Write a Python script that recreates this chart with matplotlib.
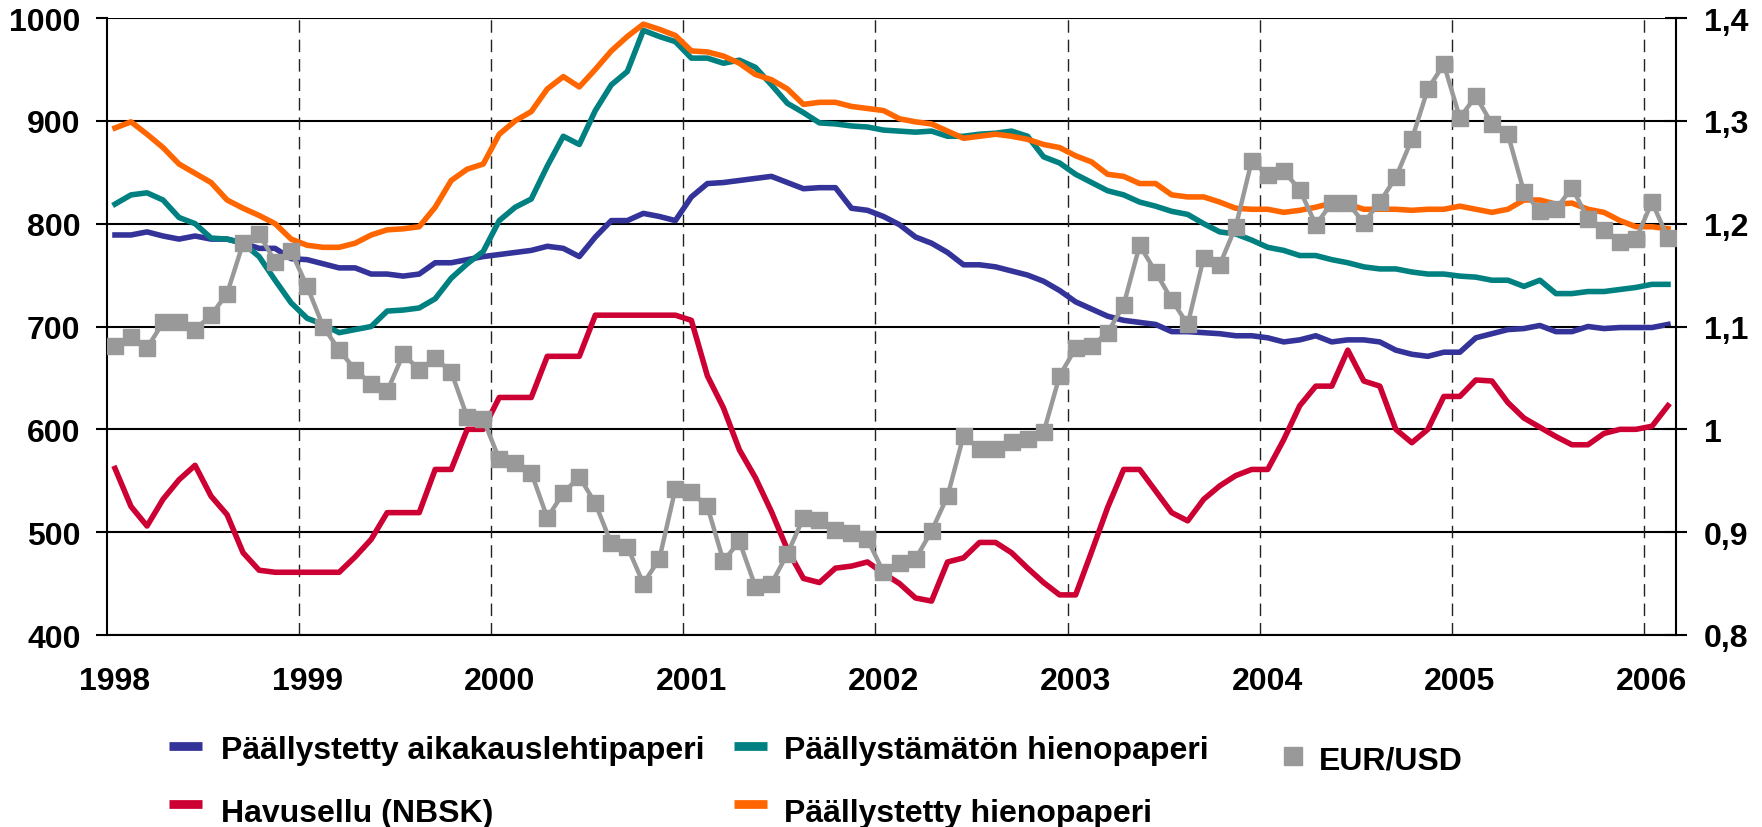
import numpy as np
import matplotlib
matplotlib.use('Agg')
import matplotlib.pyplot as plt
from matplotlib.lines import Line2D

# kuukausisarjat tammikuu 1998 - helmikuu 2006 (98 kk)
years = ['1998', '1999', '2000', '2001', '2002', '2003', '2004', '2005', '2006']

coated_magazine = [789, 789, 792, 788, 785, 788, 785, 785, 781, 776, 776, 766, 765, 761, 757, 757, 751, 751,
                   749, 751, 762, 762, 765, 768, 770, 772, 774, 778, 776, 768, 787,
                   803, 803, 810, 807, 803, 826, 839, 840, 842, 844, 846, 840, 834, 835, 835, 815, 813,
                   807, 799, 787, 781, 772, 760, 760, 758, 754, 750, 744, 735, 724, 717, 710, 706, 704, 702, 695,
                   695, 694, 693, 691, 691, 689, 685, 687, 691, 685, 687, 687, 685, 677, 673, 671, 675,
                   675, 689, 693, 697, 698, 701, 695, 695, 700, 698, 699, 699, 699, 702]

uncoated_fine = [819, 828, 830, 823, 806, 800, 786, 785, 781, 768, 745, 723, 708, 702, 694, 697, 700, 715,
                 716, 718, 727, 747, 761, 773, 803, 816, 824, 856, 885, 877, 910,
                 935, 948, 988, 982, 977, 961, 961, 956, 959, 952, 935, 917, 908, 898, 897, 895, 894,
                 891, 890, 889, 890, 885, 885, 887, 888, 890, 885, 865, 859, 848, 840, 832, 828, 821, 817, 812,
                 809, 800, 792, 790, 784, 777, 774, 769, 769, 765, 762, 758, 756, 756, 753, 751, 751,
                 749, 748, 745, 745, 739, 745, 732, 732, 734, 734, 736, 738, 741, 741]

nbsk_pulp = [562, 525, 506, 532, 551, 565, 535, 517, 480, 463, 461, 461, 461, 461, 461, 476, 493, 519,
             519, 519, 561, 561, 600, 600, 631, 631, 631, 671, 671, 671, 711,
             711, 711, 711, 711, 711, 706, 652, 621, 580, 553, 520, 483, 455, 451, 465, 467, 471,
             460, 450, 436, 433, 471, 475, 490, 490, 480, 465, 451, 439, 439, 481, 524, 561, 561, 540, 519,
             511, 532, 545, 555, 561, 561, 590, 623, 642, 642, 677, 647, 642, 600, 587, 600, 632,
             632, 648, 647, 626, 611, 602, 593, 585, 585, 596, 600, 600, 603, 623]

coated_fine = [893, 899, 887, 874, 858, 849, 840, 823, 815, 808, 800, 785, 779, 777, 777, 781, 789, 794,
               795, 797, 816, 842, 853, 858, 887, 900, 909, 931, 943, 933, 950,
               968, 982, 994, 989, 983, 968, 967, 963, 956, 945, 940, 931, 916, 918, 918, 914, 912,
               910, 902, 899, 897, 890, 883, 885, 887, 885, 882, 877, 874, 866, 860, 848, 846, 839, 839, 828,
               826, 826, 821, 815, 814, 814, 811, 813, 816, 820, 819, 814, 814, 814, 813, 814, 814,
               817, 814, 811, 814, 823, 823, 819, 820, 814, 811, 803, 797, 797, 795]

eur_usd = [1.081, 1.090, 1.079, 1.104, 1.104, 1.097, 1.111, 1.132, 1.181, 1.190, 1.163, 1.173, 1.139, 1.100,
           1.077, 1.058, 1.044, 1.037, 1.073, 1.058, 1.069, 1.056, 1.012, 1.010,
           0.971, 0.967, 0.958, 0.914, 0.938, 0.954, 0.928,
           0.889, 0.886, 0.850, 0.874, 0.942, 0.939, 0.925, 0.872, 0.891, 0.847, 0.850, 0.879, 0.914,
           0.912, 0.902, 0.899, 0.893, 0.861, 0.870, 0.874, 0.901, 0.935, 0.994, 0.981, 0.981, 0.988,
           0.991, 0.997, 1.052,
           1.079, 1.081, 1.094, 1.121, 1.179, 1.153,
           1.126, 1.102, 1.167, 1.160, 1.197, 1.261, 1.247, 1.251, 1.233, 1.199, 1.220, 1.220, 1.201,
           1.221, 1.245, 1.282, 1.331, 1.355, 1.303, 1.324, 1.297, 1.287, 1.231, 1.212, 1.214, 1.235,
           1.205, 1.194, 1.182, 1.185, 1.221, 1.186]

left_ticks = [400, 500, 600, 700, 800, 900, 1000]
right_ticks = [0.8, 0.9, 1.0, 1.1, 1.2, 1.3, 1.4]
right_labels = ['0,8', '0,9', '1', '1,1', '1,2', '1,3', '1,4']

c_blue = '#333399'
c_teal = '#008080'
c_red = '#CC0033'
c_orange = '#FF6600'
c_gray = '#999999'

plt.rcParams['font.family'] = ['Liberation Sans', 'DejaVu Sans']
plt.rcParams['font.weight'] = 'bold'
FS = 23

W, H = 1762, 828
fig = plt.figure(figsize=(W / 100, H / 100), dpi=100)
ax = fig.add_axes([107 / W, 1 - 636 / H, (1676 - 107) / W, (636 - 19) / H])

months = np.arange(len(coated_magazine))

ax.plot(months, coated_magazine, color=c_blue, lw=4, solid_joinstyle='round', zorder=3)
ax.plot(months, uncoated_fine, color=c_teal, lw=4, solid_joinstyle='round', zorder=3)
ax.plot(months, nbsk_pulp, color=c_red, lw=4, solid_joinstyle='round', zorder=3)
ax.plot(months, coated_fine, color=c_orange, lw=4, solid_joinstyle='round', zorder=3)

ax.set_xlim(-0.5, len(months) - 0.5)
ax.set_ylim(400, 1000)
ax.set_yticks(left_ticks)
ax.yaxis.grid(True, color='black', lw=1.5)
ax.set_axisbelow(True)

# vuosien rajat katkoviivoina
for b in np.arange(12, len(months), 12) - 0.5:
    ax.axvline(b, color='#222222', lw=1.0, dashes=(9, 5), zorder=1)

ax.set_xticks(np.arange(0, len(months), 12))
ax.set_xticklabels(years)
ax.tick_params(axis='x', length=0, pad=22, labelsize=FS)
ax.tick_params(axis='y', direction='out', length=8, width=1.5, pad=11, labelsize=FS)

for s in ['top', 'right']:
    ax.spines[s].set_visible(False)
ax.spines['left'].set_linewidth(1.5)
ax.spines['bottom'].set_linewidth(1.5)

ax2 = ax.twinx()
ax2.plot(months, eur_usd, color=c_gray, lw=3.2, marker='s', markersize=11, zorder=4)
ax2.set_ylim(0.8, 1.4)
ax2.set_yticks(right_ticks)
ax2.set_yticklabels(right_labels)
ax2.tick_params(axis='y', direction='inout', length=16, width=1.5, pad=12, labelsize=FS)
for s in ['top', 'left', 'bottom']:
    ax2.spines[s].set_visible(False)
ax2.spines['right'].set_linewidth(1.5)

# selite kuvan alle
def fx(px):
    return px / W

def fy(py):
    return 1 - py / H

legend_lines = [
    ('Päällystetty aikakauslehtipaperi', c_blue, 169, 747, 221, 759),
    ('Päällystämätön hienopaperi', c_teal, 734, 747, 784, 759),
    ('Havusellu (NBSK)', c_red, 169, 805, 221, 822),
    ('Päällystetty hienopaperi', c_orange, 734, 805, 784, 822),
]
for label, col, hx, hy, tx, ty in legend_lines:
    fig.add_artist(Line2D([fx(hx), fx(hx + 33)], [fy(hy), fy(hy)], color=col, lw=6.3,
                          solid_capstyle='butt'))
    fig.text(fx(tx), fy(ty), label, fontsize=FS, va='baseline', ha='left')

fig.add_artist(Line2D([fx(1293)], [fy(757)], color=c_gray, marker='s', markersize=13, lw=0))
fig.text(fx(1319), fy(770), 'EUR/USD', fontsize=FS, va='baseline', ha='left')

fig.savefig('out.png', dpi=100)
